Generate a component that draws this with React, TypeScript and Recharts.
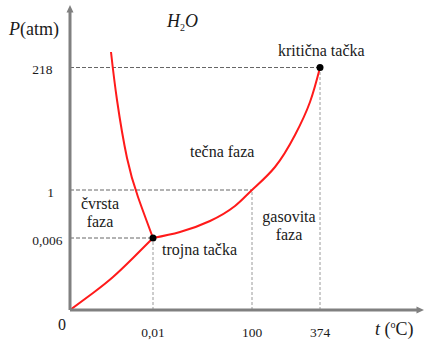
import React from 'react';
import { ComposedChart, Line, XAxis, YAxis, ReferenceLine, ReferenceDot, Customized } from 'recharts';

// Schematic (non-linear) phase diagram of water. Axis positions are schematic units.
const X_TICKS = [83, 182, 250];
const X_LABELS = ['0,01', '100', '374'];
const Y_TICKS = [72, 120, 242.5];
const Y_LABELS = ['0,006', '1', '218'];

const sublimation = [
  { x: 0, y: 0 }, { x: 23, y: 17 }, { x: 43, y: 33 }, { x: 63, y: 52 }, { x: 83, y: 72 },
];
const melting = [
  { x: 41, y: 258 }, { x: 47, y: 210 }, { x: 57, y: 152 },
  { x: 68, y: 113 }, { x: 83, y: 72 },
];
const vaporization = [
  { x: 83, y: 72 }, { x: 110, y: 78 }, { x: 140, y: 89 }, { x: 165, y: 104 },
  { x: 182, y: 120 }, { x: 205, y: 143 }, { x: 225, y: 175 },
  { x: 240, y: 208 }, { x: 250, y: 242.5 },
];

const X_MAX = 347;
const Y_MAX = 298;

const FONT = "'Liberation Serif', 'DejaVu Serif', serif";
const TXT = '#1a1a1a';
const AXIS = '#808080';
const tStyle = { fontFamily: FONT };

const XTick = (props: any) => {
  const { x, y, index } = props;
  return (
    <text x={x} y={y + 26.5} textAnchor="middle" fontSize={13.5} style={tStyle} fill={TXT}>
      {X_LABELS[index]}
    </text>
  );
};

const Y_DX = [-7.5, -16, -17.5];
const YTick = (props: any) => {
  const { x, y, index } = props;
  return (
    <text x={x + Y_DX[index]} y={y + 6.5} textAnchor="end" fontSize={13.5} style={tStyle} fill={TXT}>
      {Y_LABELS[index]}
    </text>
  );
};

const UpArrow = (p: any) => (
  <polygon points={`${p.cx},${p.cy - 7} ${p.cx - 3.5},${p.cy + 0.5} ${p.cx + 3.5},${p.cy + 0.5}`} fill={AXIS} />
);
const RightArrow = (p: any) => (
  <polygon points={`${p.cx + 7},${p.cy} ${p.cx - 0.5},${p.cy - 3.5} ${p.cx - 0.5},${p.cy + 3.5}`} fill={AXIS} />
);
const BlackDot = (p: any) => <circle cx={p.cx} cy={p.cy} r={3.5} fill="#000" />;

const Annotations = () => (
  <g style={tStyle} fill={TXT}>
    <text x={9} y={35} fontSize={18} style={tStyle}>
      <tspan fontStyle="italic">P</tspan>(atm)
    </text>
    <text x={167} y={27} fontSize={18} fontStyle="italic" style={tStyle}>
      H<tspan fontSize={10} dy={4} fontStyle="normal">2</tspan><tspan dy={-4}>O</tspan>
    </text>
    <text x={62} y={330} fontSize={16} textAnchor="middle" style={tStyle}>0</text>
    <text x={375} y={335} fontSize={18} style={tStyle}>
      <tspan fontStyle="italic">t</tspan> (<tspan fontSize={10} dy={-7}>o</tspan><tspan dy={7}>C)</tspan>
    </text>
    <text x={278} y={56} fontSize={16} style={tStyle}>kritična tačka</text>
    <text x={190} y={156.5} fontSize={16} style={tStyle}>tečna faza</text>
    <text x={100} y={208.5} fontSize={16} textAnchor="middle" style={tStyle}>čvrsta</text>
    <text x={100} y={227} fontSize={16} textAnchor="middle" style={tStyle}>faza</text>
    <text x={162} y={254.5} fontSize={16} style={tStyle}>trojna tačka</text>
    <text x={289} y={221.5} fontSize={16} textAnchor="middle" style={tStyle}>gasovita</text>
    <text x={289} y={240} fontSize={16} textAnchor="middle" style={tStyle}>faza</text>
  </g>
);

export default function App() {
  const hDash = { stroke: '#666', strokeDasharray: '4 2', strokeWidth: 1 };
  const vDash = { stroke: '#9a9a9a', strokeDasharray: '3 2', strokeWidth: 1 };
  return (
    <div style={{ position: 'absolute', left: 0, top: 0, background: '#fff' }}>
      <ComposedChart width={425} height={346} margin={{ top: 12, right: 8, bottom: 6, left: 10 }}>
        <XAxis
          type="number"
          dataKey="x"
          domain={[0, X_MAX]}
          ticks={X_TICKS}
          tick={<XTick />}
          tickLine={false}
          tickSize={0}
          tickMargin={0}
          axisLine={{ stroke: AXIS, strokeWidth: 3 }}
          allowDataOverflow
          height={30}
        />
        <YAxis
          type="number"
          dataKey="y"
          domain={[0, Y_MAX]}
          ticks={Y_TICKS}
          tick={<YTick />}
          tickLine={false}
          tickSize={0}
          tickMargin={0}
          axisLine={{ stroke: AXIS, strokeWidth: 3 }}
          allowDataOverflow
          width={60}
        />
        <ReferenceLine segment={[{ x: 0, y: Y_TICKS[0] }, { x: X_TICKS[0], y: Y_TICKS[0] }]} {...hDash} />
        <ReferenceLine segment={[{ x: 0, y: Y_TICKS[1] }, { x: X_TICKS[1], y: Y_TICKS[1] }]} {...hDash} />
        <ReferenceLine segment={[{ x: 0, y: Y_TICKS[2] }, { x: X_TICKS[2], y: Y_TICKS[2] }]} {...hDash} />
        <ReferenceLine segment={[{ x: X_TICKS[0], y: 0 }, { x: X_TICKS[0], y: Y_TICKS[0] }]} {...vDash} />
        <ReferenceLine segment={[{ x: X_TICKS[1], y: 0 }, { x: X_TICKS[1], y: Y_TICKS[1] }]} {...vDash} />
        <ReferenceLine segment={[{ x: X_TICKS[2], y: 0 }, { x: X_TICKS[2], y: Y_TICKS[2] }]} {...vDash} />
        <Line data={sublimation} dataKey="y" type="natural" stroke="#ff1a1a" strokeWidth={2} dot={false} isAnimationActive={false} />
        <Line data={melting} dataKey="y" type="natural" stroke="#ff1a1a" strokeWidth={2} dot={false} isAnimationActive={false} />
        <Line data={vaporization} dataKey="y" type="natural" stroke="#ff1a1a" strokeWidth={2} dot={false} isAnimationActive={false} />
        <ReferenceDot x={X_TICKS[0]} y={Y_TICKS[0]} shape={BlackDot} ifOverflow="visible" />
        <ReferenceDot x={X_TICKS[2]} y={Y_TICKS[2]} shape={BlackDot} ifOverflow="visible" />
        <ReferenceDot x={0} y={Y_MAX} shape={UpArrow} ifOverflow="visible" />
        <ReferenceDot x={X_MAX} y={0} shape={RightArrow} ifOverflow="visible" />
        <Customized component={Annotations} />
      </ComposedChart>
    </div>
  );
}
